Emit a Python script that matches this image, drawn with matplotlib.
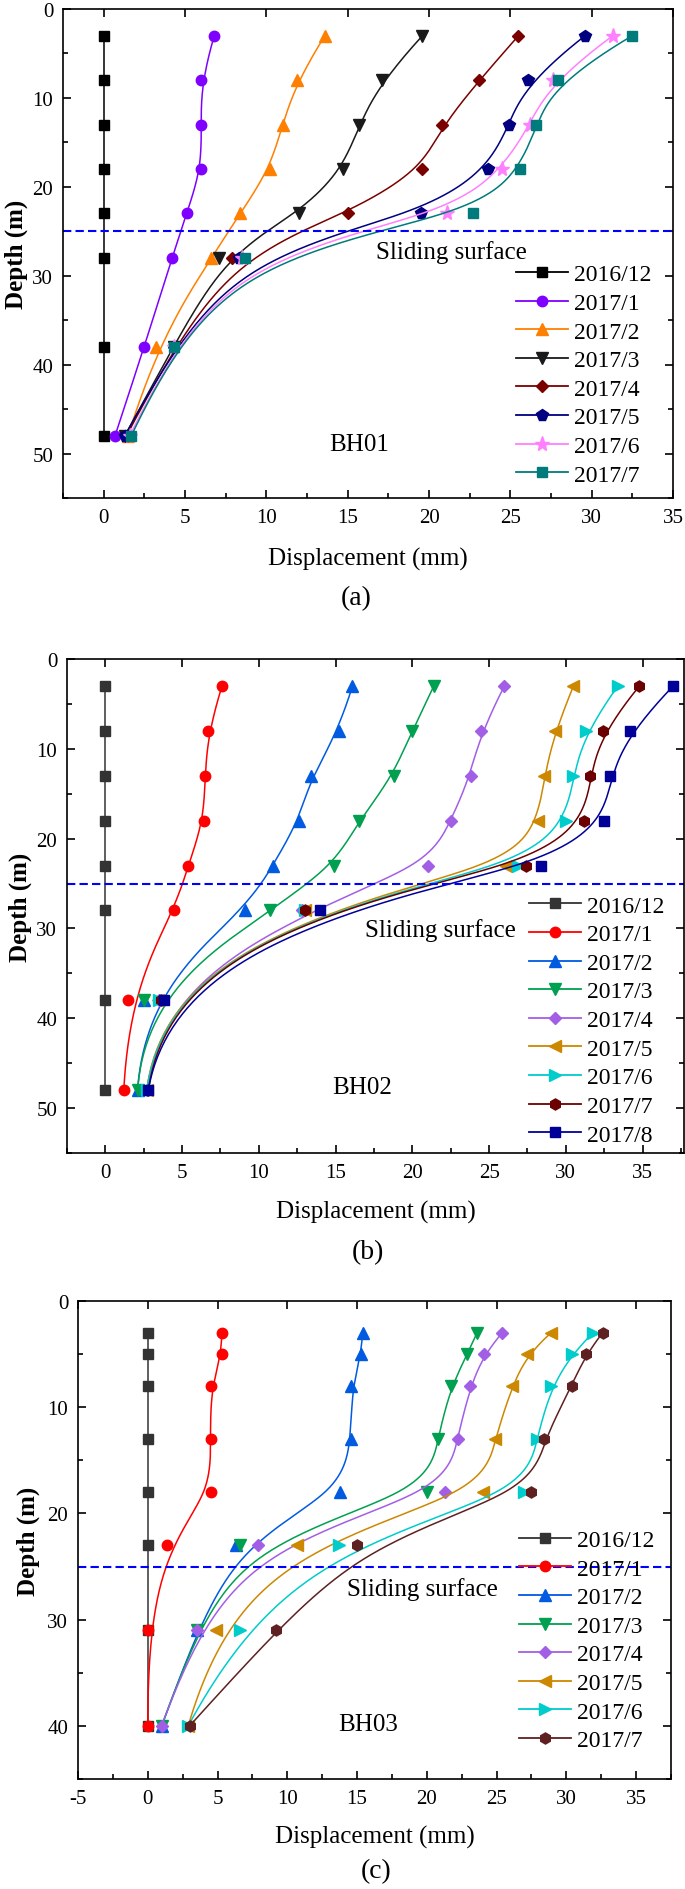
import matplotlib
matplotlib.use('Agg')
import matplotlib.pyplot as plt
import numpy as np
from matplotlib.ticker import MultipleLocator

plt.rcParams['font.family'] = ['Liberation Serif', 'DejaVu Serif']
plt.rcParams['axes.unicode_minus'] = False

# ---- data ----
sliding_depth = 25

dates_a = ['2016/12', '2017/1', '2017/2', '2017/3', '2017/4', '2017/5', '2017/6', '2017/7']
depth_a = [3, 8, 13, 18, 23, 28, 38, 48]
disp_a = [
    [0, 0, 0, 0, 0, 0, 0, 0],
    [6.8, 6.0, 6.0, 6.0, 5.1, 4.2, 2.5, 0.7],
    [13.6, 11.9, 11.0, 10.2, 8.4, 6.6, 3.2, 1.5],
    [19.6, 17.1, 15.7, 14.7, 12.0, 7.1, 4.3, 1.3],
    [25.5, 23.1, 20.8, 19.6, 15.0, 7.9, 4.3, 1.4],
    [29.6, 26.1, 24.9, 23.6, 19.5, 8.3, 4.3, 1.3],
    [31.3, 27.6, 26.2, 24.5, 21.1, 8.5, 4.3, 1.6],
    [32.5, 27.9, 26.6, 25.6, 22.7, 8.7, 4.3, 1.7],
]

dates_b = ['2016/12', '2017/1', '2017/2', '2017/3', '2017/4', '2017/5', '2017/6', '2017/7', '2017/8']
depth_b = [3, 8, 13, 18, 23, 28, 38, 48]
disp_b = [
    [0, 0, 0, 0, 0, 0, 0, 0],
    [7.6, 6.7, 6.5, 6.4, 5.4, 4.5, 1.5, 1.2],
    [16.1, 15.2, 13.4, 12.6, 10.9, 9.1, 2.5, 2.1],
    [21.4, 20.0, 18.8, 16.5, 14.9, 10.7, 2.5, 2.1],
    [26.0, 24.5, 23.8, 22.5, 21.0, 12.8, 3.5, 2.7],
    [30.5, 29.3, 28.6, 28.2, 26.1, 13.0, 3.4, 2.7],
    [33.4, 31.3, 30.5, 30.0, 26.9, 13.0, 3.5, 2.7],
    [34.8, 32.4, 31.6, 31.2, 27.4, 13.0, 3.6, 2.8],
    [37.0, 34.2, 32.9, 32.5, 28.4, 14.0, 3.8, 2.8],
]

dates_c = ['2016/12', '2017/1', '2017/2', '2017/3', '2017/4', '2017/5', '2017/6', '2017/7']
depth_c = [3, 5, 8, 13, 18, 23, 31, 40]
disp_c = [
    [0, 0, 0, 0, 0, 0, 0, 0],
    [5.3, 5.3, 4.5, 4.5, 4.5, 1.4, 0.0, 0.0],
    [15.4, 15.3, 14.6, 14.6, 13.8, 6.3, 3.5, 1.0],
    [23.6, 22.9, 21.7, 20.8, 20.0, 6.6, 3.5, 1.0],
    [25.4, 24.1, 23.1, 22.2, 21.3, 7.9, 3.5, 1.0],
    [28.9, 27.2, 26.1, 24.9, 24.0, 10.7, 4.9, 2.9],
    [31.9, 30.4, 28.9, 27.9, 27.0, 13.7, 6.6, 2.9],
    [32.6, 31.4, 30.4, 28.4, 27.5, 15.0, 9.2, 3.0],
]

# ---- styles ----
colors_a = ['#000000', '#7F00FF', '#FF7F00', '#1A1A1A', '#7A0000', '#000080', '#FF80FF', '#007B7B']
markers_a = ['s', 'o', '^', 'v', 'D', 'p', '*', 's']
colors_b = ['#333333', '#FF0000', '#005BE0', '#00A050', '#A35EE6', '#CC8800', '#00CCCC', '#6B0000', '#000099']
markers_b = ['s', 'o', '^', 'v', 'D', '<', '>', 'h', 's']
colors_c = ['#333333', '#FF0000', '#005BE0', '#00A050', '#A35EE6', '#CC8800', '#00CCCC', '#5E2020']
markers_c = ['s', 'o', '^', 'v', 'D', '<', '>', 'h']

msize = {'s': 7, 'o': 7.5, '^': 8, 'v': 8, 'D': 6.5, 'p': 8.5, '*': 11, 'h': 8, '<': 8, '>': 8}


def bspline(xs, ys, num=300, k=3):
    """clamped cubic B-spline using the data points as control points"""
    P = np.column_stack([xs, ys]).astype(float)
    m = len(P)
    kv = np.r_[np.zeros(k), np.arange(m - k + 1), np.full(k, m - k)].astype(float)
    t = np.linspace(0, m - k, num)
    t[-1] -= 1e-9
    N = np.array([(kv[i] <= t) & (t < kv[i + 1]) for i in range(len(kv) - 1)], dtype=float)
    for d in range(1, k + 1):
        Nn = np.zeros((len(kv) - 1 - d, num))
        for i in range(len(kv) - 1 - d):
            a = kv[i + d] - kv[i]
            b = kv[i + d + 1] - kv[i + 1]
            left = (t - kv[i]) / a * N[i] if a > 0 else 0
            right = (kv[i + d + 1] - t) / b * N[i + 1] if b > 0 else 0
            Nn[i] = left + right
        N = Nn
    C = N.T @ P
    return C[:, 0], C[:, 1]


def panel(ax, depth, disp, dates, colors, markers, xlim, ylim, ymax_tick,
          name, name_xy, slide_xy, leg_xy, ylab_x, xlab_y):
    for vals, lab, c, m in zip(disp, dates, colors, markers):
        sx, sy = bspline(vals, depth)
        ax.plot(sx, sy, '-', color=c, lw=1.1)
        ax.plot(vals, depth, m, color=c, ms=msize[m], mec=c, ls='none')
        ax.plot([], [], '-', marker=m, color=c, ms=msize[m], lw=1.3, label=lab)
    ax.axhline(sliding_depth, color='#0000FF', lw=1.5, dashes=(4, 2))
    ax.set_xlim(*xlim)
    ax.set_ylim(*ylim)
    ax.xaxis.set_major_locator(MultipleLocator(5))
    ax.xaxis.set_minor_locator(MultipleLocator(2.5))
    ax.set_yticks(np.arange(0, ymax_tick + 1, 10))
    ax.yaxis.set_minor_locator(MultipleLocator(5))
    ax.tick_params(which='both', direction='in', top=True, right=True,
                   width=1.2, labelsize=15, pad=7)
    ax.tick_params(which='major', length=6)
    ax.tick_params(which='minor', length=3.3, top=False)
    for s in ax.spines.values():
        s.set_linewidth(1.2)
    ax.set_xlabel('Displacement (mm)', fontsize=18)
    ax.set_ylabel('Depth (m)', fontsize=18, fontweight='bold')
    ax.xaxis.set_label_coords(0.5, xlab_y)
    ax.xaxis.label.set_va('center')
    ax.yaxis.set_label_coords(ylab_x, 0.5)
    ax.yaxis.label.set_va('center')
    ax.text(slide_xy[0], slide_xy[1], 'Sliding surface', fontsize=18,
            ha='center', va='center')
    ax.text(name_xy[0], name_xy[1], name, fontsize=18, ha='center', va='center')
    ax.legend(loc='upper left', bbox_to_anchor=leg_xy, frameon=False, fontsize=17,
              borderpad=0, borderaxespad=0, handlelength=2.2, handletextpad=0.25,
              labelspacing=0.3)


W, H = 685, 1890
fig = plt.figure(figsize=(W / 100, H / 100), dpi=100)


def add_axes(left, top, right, bottom):
    return fig.add_axes([left / W, 1 - bottom / H, (right - left) / W, (bottom - top) / H])


ax_a = add_axes(63, 10, 673, 499)
ax_b = add_axes(67, 660, 684, 1154)
ax_c = add_axes(78, 1302, 671, 1780)

panel(ax_a, depth_a, disp_a, dates_a, colors_a, markers_a, (-2.5, 35), (55, 0), 50,
      'BH01', (15.7, 48.9), (21.4, 27.3), (0.743, 0.479), -0.077, -0.123)
panel(ax_b, depth_b, disp_b, dates_b, colors_b, markers_b, (-2.5, 37.7), (55, 0), 50,
      'BH02', (16.7, 47.6), (21.8, 30.1), (0.749, 0.522), -0.076, -0.119)
panel(ax_c, depth_c, disp_c, dates_c, colors_c, markers_c, (-5, 37.5), (45, 0), 40,
      'BH03', (15.8, 39.8), (19.7, 27.1), (0.744, 0.522), -0.083, -0.12)

for lab, (px, py) in zip(['(a)', '(b)', '(c)'], [(356, 599), (368, 1253), (376, 1872)]):
    fig.text(px / W, 1 - py / H, lab, fontsize=20, ha='center', va='center')

fig.savefig('out.png', dpi=100)
